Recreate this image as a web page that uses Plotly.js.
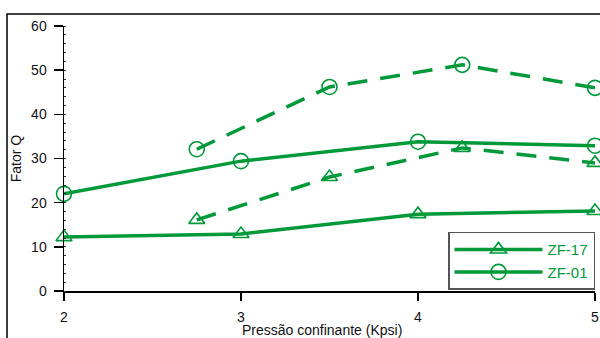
<!DOCTYPE html>
<html>
<head>
<meta charset="utf-8">
<script src="https://cdn.plot.ly/plotly-3.0.1.min.js"></script>
<style>html,body{margin:0;padding:0;background:#fff;}#chart{width:600px;height:338px;}</style>
</head>
<body>
<div id="chart"></div>
<script>
// Data
const xSolid = [2, 3, 4, 5];
const xDashed = [2.75, 3.5, 4.25, 5];
const zf01Solid = [22, 29.4, 33.8, 32.9];
const zf01Dashed = [32.1, 46.2, 51.2, 46];
const zf17Solid = [12.2, 12.9, 17.4, 18.1];
const zf17Dashed = [16.1, 25.8, 32.4, 29];
const seriesNames = ['ZF-17', 'ZF-01'];
const xTicks = [2, 3, 4, 5];
const yTicks = [0, 10, 20, 30, 40, 50, 60];
const xTitle = 'Pressão confinante (Kpsi)';
const yTitle = 'Fator Q';

const green = '#00993a';
const lineW = 3.5;
const mkCircle = {symbol: 'circle-open', size: 15, color: green, line: {width: 1.6, color: green}};
const mkTri = {symbol: 'triangle-up-open', size: 14, color: green, line: {width: 1.6, color: green}};

const traces = [
  {x: xSolid, y: zf17Solid, name: seriesNames[0], mode: 'lines+markers', cliponaxis: false, line: {color: green, width: lineW}, marker: mkTri, showlegend: true},
  {x: xSolid, y: zf01Solid, name: seriesNames[1], mode: 'lines+markers', cliponaxis: false, line: {color: green, width: lineW}, marker: mkCircle, showlegend: true},
  {x: xDashed, y: zf17Dashed, name: seriesNames[0] + ' ', mode: 'lines+markers', cliponaxis: false, line: {color: green, width: lineW, dash: '20px,13px'}, marker: mkTri, showlegend: false},
  {x: xDashed, y: zf01Dashed, name: seriesNames[1] + ' ', mode: 'lines+markers', cliponaxis: false, line: {color: green, width: lineW, dash: '20px,13px'}, marker: mkCircle, showlegend: false}
];

const fontFam = 'Liberation Sans, Arial, sans-serif';
const layout = {
  width: 600, height: 338,
  margin: {l: 64, r: 5, t: 26, b: 47, pad: 0},
  paper_bgcolor: '#fff', plot_bgcolor: '#fff',
  font: {family: fontFam, size: 14, color: '#111'},
  showlegend: true,
  xaxis: {
    range: [2, 5], tickvals: xTicks, ticktext: xTicks.map(String),
    showgrid: false, zeroline: false, showline: true, linecolor: '#000', linewidth: 1.5,
    ticks: 'outside', ticklen: 8, tickwidth: 1.5, tickcolor: '#000',
    ticklabelstandoff: 5,
    tickfont: {family: fontFam, size: 14, color: '#111'}
  },
  yaxis: {
    range: [0, 60], tickvals: yTicks, ticktext: yTicks.map(String),
    showgrid: false, zeroline: false, showline: true, linecolor: '#000', linewidth: 1.5,
    ticks: 'outside', ticklen: 9, tickwidth: 1.5, tickcolor: '#000',
    ticklabelstandoff: 4,
    tickfont: {family: fontFam, size: 14, color: '#111'},
    minor: {dtick: 2, ticks: 'inside', ticklen: 2, tickwidth: 1, tickcolor: '#333', showgrid: false},
    title: {text: yTitle, font: {family: fontFam, size: 14, color: '#111'}, standoff: 6}
  },
  annotations: [
    {text: xTitle, xref: 'paper', yref: 'paper', x: 0.486, y: -0.147, xanchor: 'center', yanchor: 'middle',
     showarrow: false, font: {family: fontFam, size: 14, color: '#111'}}
  ],
  legend: {
    x: 1, xanchor: 'right', y: 0.005, yanchor: 'bottom',
    bgcolor: '#fff', bordercolor: '#555', borderwidth: 1.5,
    font: {family: fontFam, size: 15, color: green},
    itemwidth: 88, tracegroupgap: 0,
    traceorder: 'normal'
  },
  shapes: [
    {type: 'rect', xref: 'paper', yref: 'paper', x0: -0.1073, x1: 1.2, y0: -0.4, y1: 1.0453,
     line: {color: '#000', width: 1.5}, fillcolor: 'rgba(0,0,0,0)', layer: 'below'}
  ]
};

Plotly.newPlot('chart', traces, layout, {displayModeBar: false, staticPlot: true});
</script>
</body>
</html>
